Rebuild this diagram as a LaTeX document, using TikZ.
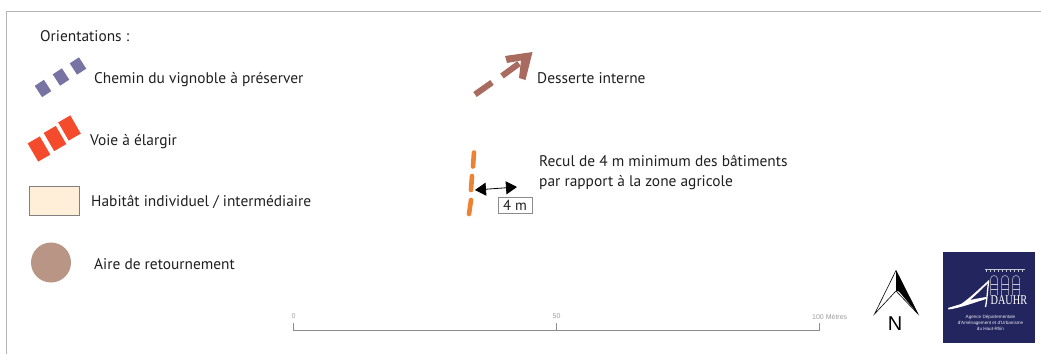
\documentclass[tikz,border=0pt]{standalone}
\usepackage{fontspec}
\setmainfont{PT Sans}
\newfontfamily\helv{Liberation Sans}
\newfontfamily\seriff{Liberation Serif}
\usetikzlibrary{arrows.meta}
\definecolor{frameg}{HTML}{B4B4B4}
\definecolor{purp}{HTML}{7773A3}
\definecolor{redv}{HTML}{F54B2D}
\definecolor{hab}{HTML}{FFEFD9}
\definecolor{aire}{HTML}{B99585}
\definecolor{brownd}{HTML}{A96B5F}
\definecolor{orng}{HTML}{EE8233}
\definecolor{navy}{HTML}{23255F}
\definecolor{scaleg}{HTML}{8C8C8C}
\tikzset{
 lab/.style={anchor=west,inner sep=0pt,text height=11pt,text depth=3.5pt,font=\fontsize{15.4}{18}\selectfont,text=black!88},
 purpdash/.style={fill=purp,rotate=33,minimum width=11pt,minimum height=13.5pt,inner sep=0pt},
 reddash/.style={fill=redv,rotate=30,minimum width=14pt,minimum height=21pt,inner sep=0pt},
 ornd/.style={draw=orng,line width=4.6pt,line cap=round},
 brn/.style={draw=brownd,line width=6pt},
 sclab/.style={inner sep=0pt,font=\helv\fontsize{7}{8}\selectfont,text=scaleg!85},
 scl/.style={draw=scaleg,line width=1pt},
 logot/.style={inner sep=0pt,text=white,align=center},
 logol/.style={draw=white!75!navy,line width=.5pt}
}
\begin{document}
\begin{tikzpicture}[x=1pt,y=-1pt]
\useasboundingbox (0,0) rectangle (1041,354);
% frame
\coordinate (fa) at (6.5,354);
\coordinate (fb) at (6.5,11.5);
\coordinate (fc) at (1041,11.5);
\draw[frameg,line width=.9pt] (fa) -- (fb) -- (fc);
% left legend
\node[lab] (t0) at (40,38) {Orientations :};
\node[purpdash] (p1) at (43,88.5) {};
\node[purpdash] (p2) at (61,77) {};
\node[purpdash] (p3) at (78,66) {};
\node[lab] (t1) at (94,79.75) {Chemin du vignoble à préserver};
\node[reddash] (r1) at (39,149) {};
\node[reddash] (r2) at (55,138.5) {};
\node[reddash] (r3) at (69.5,128) {};
\node[lab] (t2) at (90,141.25) {Voie à élargir};
\node[draw=black!50,fill=hab,line width=.8pt,minimum width=50pt,minimum height=29pt,inner sep=0pt] (hb) at (54,200.5) {};
\node[lab] (t3) at (91,203) {Habitât individuel / intermédiaire};
\node[circle,fill=aire,minimum size=40pt,inner sep=0pt] (ci) at (51,262.5) {};
\node[lab] (t4) at (94,266) {Aire de retournement};
% desserte
\coordinate (d1) at (475,94.5);
\coordinate (d2) at (492,82.5);
\coordinate (d3) at (502,76);
\coordinate (d4) at (519,63.5);
\draw[brn] (d1) -- (d2);
\draw[brn] (d3) -- (d4);
\fill[brownd] (532.5,52) -- (505,56) -- (507,63) -- (521,60.5) -- (519,78) -- (525.5,80) -- cycle;
\node[lab] (t5) at (537,79.25) {Desserte interne};
% recul
\coordinate (o1) at (474,152.5);
\coordinate (o2) at (473,166.5);
\coordinate (o3) at (472,176);
\coordinate (o4) at (471,190);
\coordinate (o5) at (471,200);
\coordinate (o6) at (469,214);
\draw[ornd] (o1) -- (o2);
\draw[ornd] (o3) -- (o4);
\draw[ornd] (o5) -- (o6);
\coordinate (a1) at (475,190);
\coordinate (a2) at (517,187);
\draw[black,line width=.8pt,{Triangle[length=11pt,width=13pt]}-{Triangle[length=11pt,width=13pt]}] (a1) -- (a2);
\node[draw=black!45,fill=white,line width=.6pt,minimum width=34pt,minimum height=16pt,inner sep=0pt,font=\fontsize{14.5}{16}\selectfont,text=black!88] (bx) at (515,205) {4 m};
\node[lab] (t6) at (539,162.75) {Recul de 4 m minimum des bâtiments};
\node[lab] (t7) at (539,182.75) {par rapport à la zone agricole};
% scale
\coordinate (s0a) at (293.5,323);
\coordinate (s0) at (293.5,330.5);
\coordinate (s1a) at (556.5,323);
\coordinate (s1) at (556.5,330.5);
\coordinate (s2a) at (819.5,323);
\coordinate (s2) at (819.5,330.5);
\draw[scl] (s0a) -- (s0) -- (s2) -- (s2a);
\draw[scl] (s1a) -- (s1);
\node[sclab] (l0) at (293.5,316.5) {0};
\node[sclab] (l1) at (556.5,316.5) {50};
\node[sclab,anchor=west] (l2) at (812,316.5) {100 Mètres};
% north arrow
\draw[black,line width=.6pt,line join=miter,fill=white] (896,270.5) -- (874.5,314) -- (896,291) -- (918,314) -- cycle;
\fill[black] (896,270.5) -- (918,314) -- (899,291.5) -- (896,291) -- cycle;
\node[inner sep=0pt,font=\helv\fontsize{20}{22}\selectfont] (nn) at (895,323.5) {N};
% logo
\node[fill=navy,minimum width=92pt,minimum height=91pt,inner sep=0pt] (lg) at (989,297) {};
\coordinate (g1) at (985,269);
\coordinate (g2) at (1025,269);
\draw[logol,line width=1pt] (g1) -- (g2);
\foreach \x in {986,990,...,1024} \draw[logol,line width=.5pt] (\x,269) -- (\x,272);
\foreach \x in {994,1005,1016}{
 \draw[logol] (\x-3.5,295) -- (\x-3.5,279) arc[start angle=180,end angle=0,radius=3.5pt] -- (\x+3.5,295);
 \draw[logol,line width=.4pt] (\x-3.5,284) -- (\x+3.5,284) (\x-3.5,289) -- (\x+3.5,289);
}
\fill[white] (989,280) .. controls (979,289) and (970,298) .. (961,304) -- (948,308) -- (948.5,309.5) .. controls (960,308) and (973,303) .. (986,299) -- (986,297) .. controls (980,298) and (975,299) .. (970,300) .. controls (977,294) and (984,287) .. (989,282) -- cycle;
\draw[white,line width=1.3pt] (988.6,281) .. controls (987.5,290) and (987,300) .. (985.5,307);
\node[logot,font=\seriff\fontsize{13.5}{14}\selectfont,anchor=west,transform shape,xscale=.76] (lb) at (990.5,300.5) {DAUHR};
\node[logot,font=\helv\fontsize{4.6}{5.9}\selectfont,text=white!90!navy] (lc) at (990.5,323) {Agence Départementale\\d'Aménagement et d'Urbanisme\\du Haut-Rhin};
\end{tikzpicture}
\end{document}
